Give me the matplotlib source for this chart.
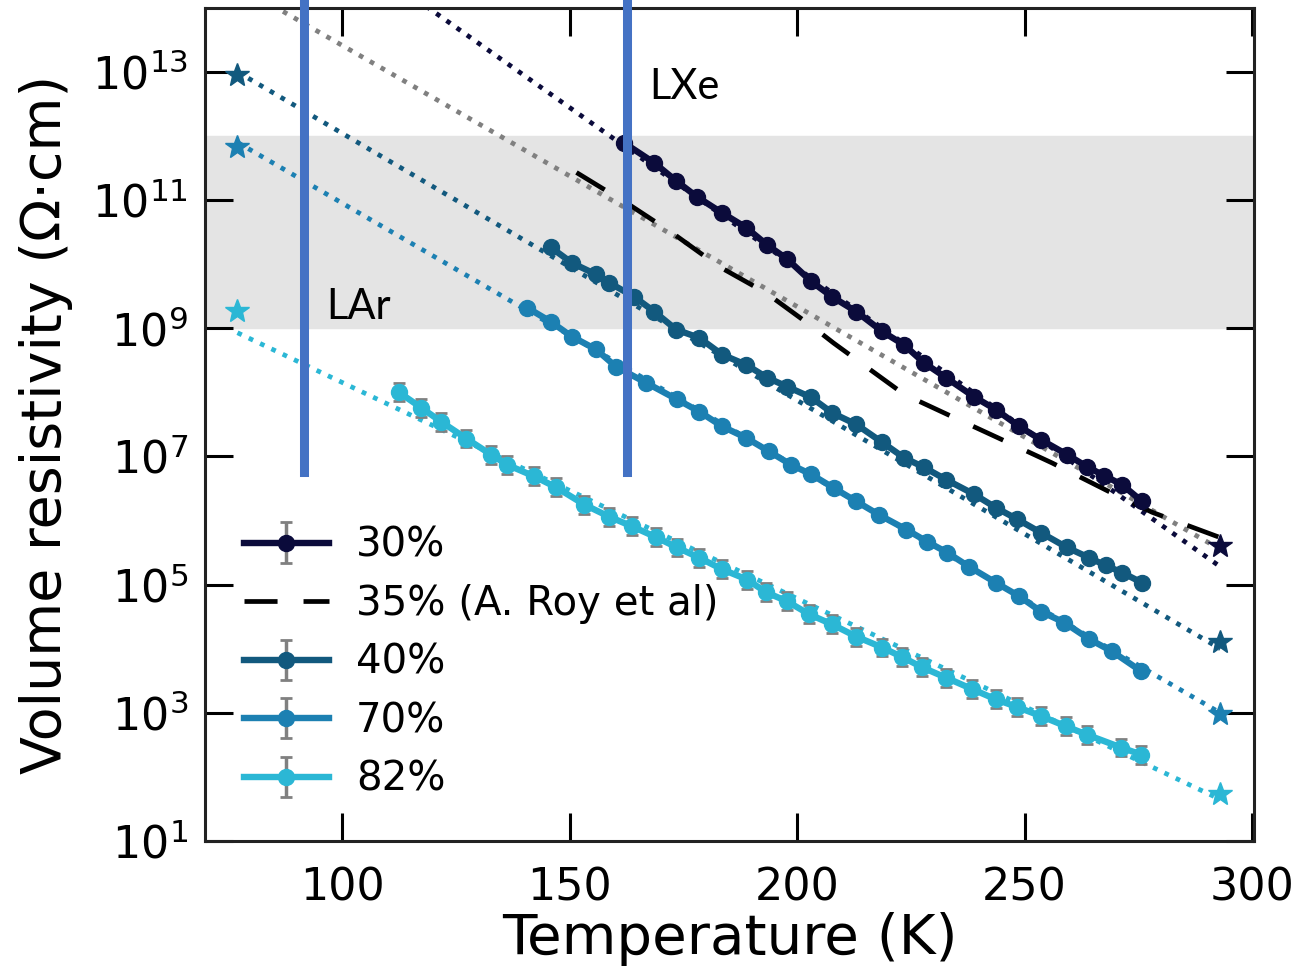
import numpy as np
import matplotlib.pyplot as plt

# measured resistivity vs temperature (log10 of Ohm*cm)
t_30 = [162.0, 168.6, 173.4, 178.0, 183.5, 188.8, 193.4, 197.8, 203.1, 207.7, 213.0, 218.7,
        223.5, 227.9, 232.7, 238.9, 243.7, 248.8, 253.6, 259.3, 263.7, 267.5, 271.4, 275.8]
lg_30 = [11.89, 11.58, 11.30, 11.05, 10.80, 10.57, 10.30, 10.08, 9.73, 9.49, 9.26, 8.95,
         8.74, 8.46, 8.23, 7.93, 7.73, 7.47, 7.26, 7.03, 6.84, 6.70, 6.56, 6.30]

t_40 = [145.9, 150.5, 155.8, 158.7, 164.2, 168.6, 173.4, 178.5, 183.5, 188.8, 193.4, 197.8,
        203.1, 207.7, 213.0, 218.7, 223.5, 227.9, 232.7, 238.9, 243.7, 248.4, 253.6, 259.3,
        264.2, 267.8, 271.4, 275.8]
lg_40 = [10.26, 10.02, 9.84, 9.71, 9.49, 9.26, 8.98, 8.85, 8.59, 8.43, 8.23, 8.09,
         7.92, 7.68, 7.50, 7.22, 6.98, 6.83, 6.64, 6.41, 6.20, 6.02, 5.81, 5.58,
         5.42, 5.30, 5.19, 5.03]

t_70 = [140.7, 145.9, 150.5, 155.8, 160.2, 166.8, 173.6, 178.5, 183.5, 188.8, 193.8, 198.7,
        203.1, 208.0, 213.0, 218.0, 224.0, 228.6, 233.0, 237.8, 243.7, 248.8, 253.6, 258.7,
        264.2, 269.2, 275.6]
lg_70 = [9.32, 9.10, 8.87, 8.67, 8.40, 8.15, 7.89, 7.70, 7.47, 7.29, 7.08, 6.87,
         6.72, 6.51, 6.30, 6.09, 5.86, 5.67, 5.50, 5.28, 5.03, 4.82, 4.58, 4.41,
         4.15, 3.96, 3.65]

t_82 = [112.5, 117.4, 121.8, 127.3, 132.7, 136.3, 142.2, 147.0, 153.2, 158.7, 163.7, 169.0,
        173.6, 178.5, 183.5, 189.0, 193.2, 197.8, 202.6, 207.7, 213.0, 218.7, 223.1, 227.5,
        232.7, 238.5, 243.7, 248.4, 253.6, 259.1, 263.7, 271.2, 275.6]
lg_82 = [8.00, 7.76, 7.54, 7.28, 7.03, 6.87, 6.69, 6.52, 6.25, 6.06, 5.91, 5.74,
         5.58, 5.42, 5.24, 5.08, 4.88, 4.74, 4.54, 4.38, 4.19, 4.02, 3.87, 3.71,
         3.55, 3.37, 3.21, 3.09, 2.95, 2.79, 2.66, 2.46, 2.35]

# A. Roy et al, 35 %
t_roy = [151.5, 163.7, 172.5, 182.9, 193.2, 204.2, 208.0, 223.5, 234.1, 246.0, 256.0, 268.6, 278.0, 294.3]
lg_roy = [11.43, 10.90, 10.49, 9.96, 9.55, 8.98, 8.77, 7.97, 7.62, 7.23, 6.90, 6.45, 6.13, 5.70]

# exponential fits evaluated at LN2 and room temperature
t_fit = [77, 293]
fit_30 = [16.1, 5.28]
fit_35 = [14.35, 5.55]
fit_40 = [13.0, 4.0]
fit_70 = [11.9, 3.0]
fit_82 = [8.93, 1.65]

# single measurements at 77 K and 293 K
t_star = [77, 293]
star_30 = [16.3, 5.60]
star_40 = [12.95, 4.10]
star_70 = [11.83, 2.98]
star_82 = [9.27, 1.73]

rel_err = {'30%': 0.05, '40%': 0.05, '70%': 0.05, '82%': 0.14}

colors = {'30%': '#0b0b3b', '40%': '#12597e', '70%': '#1c80b2', '82%': '#2bb7d5'}

plt.rcParams['font.family'] = 'DejaVu Sans'
plt.rcParams['mathtext.fontset'] = 'dejavusans'

fig = plt.figure(figsize=(13.04, 9.69), dpi=100)
ax = fig.add_axes([0.157, 0.132, 0.805, 0.860])

ax.axhspan(1e9, 1e12, color='#e4e4e4', zorder=0)

series = [('30%', t_30, lg_30, fit_30, star_30),
          ('40%', t_40, lg_40, fit_40, star_40),
          ('70%', t_70, lg_70, fit_70, star_70),
          ('82%', t_82, lg_82, fit_82, star_82)]

handles = {}
for name, t, lg, fit, star in series:
    c = colors[name]
    y = 10 ** np.array(lg)
    dlog = rel_err[name]
    err = [y - y * 10 ** -dlog, y * 10 ** dlog - y]
    ax.plot(t_fit, 10 ** np.array(fit), ':', color=c, lw=3.4, zorder=2)
    ys = 10 ** np.array(star)
    ax.errorbar(t_star, ys, yerr=[ys - ys * 10 ** -0.05, ys * 10 ** 0.05 - ys], fmt='*',
                color=c, ms=18, ecolor='grey', elinewidth=2, capsize=3, zorder=3)
    h = ax.errorbar(t, y, yerr=err, fmt='-o', color=c, lw=4.6, ms=11.5, ecolor='grey',
                    elinewidth=2.5, capsize=4, capthick=2, zorder=4)
    handles[name] = h

ax.plot(t_fit, 10 ** np.array(fit_35), ':', color='grey', lw=3.4, zorder=2)
roy, = ax.plot(t_roy, 10 ** np.array(lg_roy), '--', color='black', lw=3.4,
               dashes=(7, 5.5), zorder=3)

ax.set_yscale('log')
ax.set_xlim(69.8, 300.5)
ax.set_ylim(1e1, 1e14)
ax.set_xticks([100, 150, 200, 250, 300])
ax.set_yticks([1e1, 1e3, 1e5, 1e7, 1e9, 1e11, 1e13])
ax.minorticks_off()
ax.tick_params(direction='in', length=20, width=2.2, labelsize=32, top=True, right=True, pad=12)
ax.tick_params(axis='x', pad=18)
for s in ax.spines.values():
    s.set_linewidth(2.2)
    s.set_color('#222222')

ax.set_xlabel('Temperature (K)', fontsize=40.5, labelpad=2)
ax.set_ylabel('Volume resistivity (\u03a9\u00b7cm)', fontsize=40, labelpad=14)

ax.legend([handles['30%'], roy, handles['40%'], handles['70%'], handles['82%']],
          ['30%', '35% (A. Roy et al)', '40%', '70%', '82%'],
          loc='lower left', bbox_to_anchor=(0.003, 0.006), frameon=False, fontsize=29,
          handlelength=2.1, labelspacing=0.46, handletextpad=0.68)

# liquid argon and liquid xenon temperatures
for tx in (91.6, 162.6):
    ax.axvline(tx, ymin=0.4435, ymax=1.006, color='#4472c4', lw=6.5, clip_on=False, zorder=6)
ax.text(96.5, 10 ** 9.15, 'LAr', fontsize=30, family='Lato', zorder=7)
ax.text(167.5, 10 ** 12.58, 'LXe', fontsize=30, family='Lato', zorder=7)

fig.savefig('out.png', dpi=100)
